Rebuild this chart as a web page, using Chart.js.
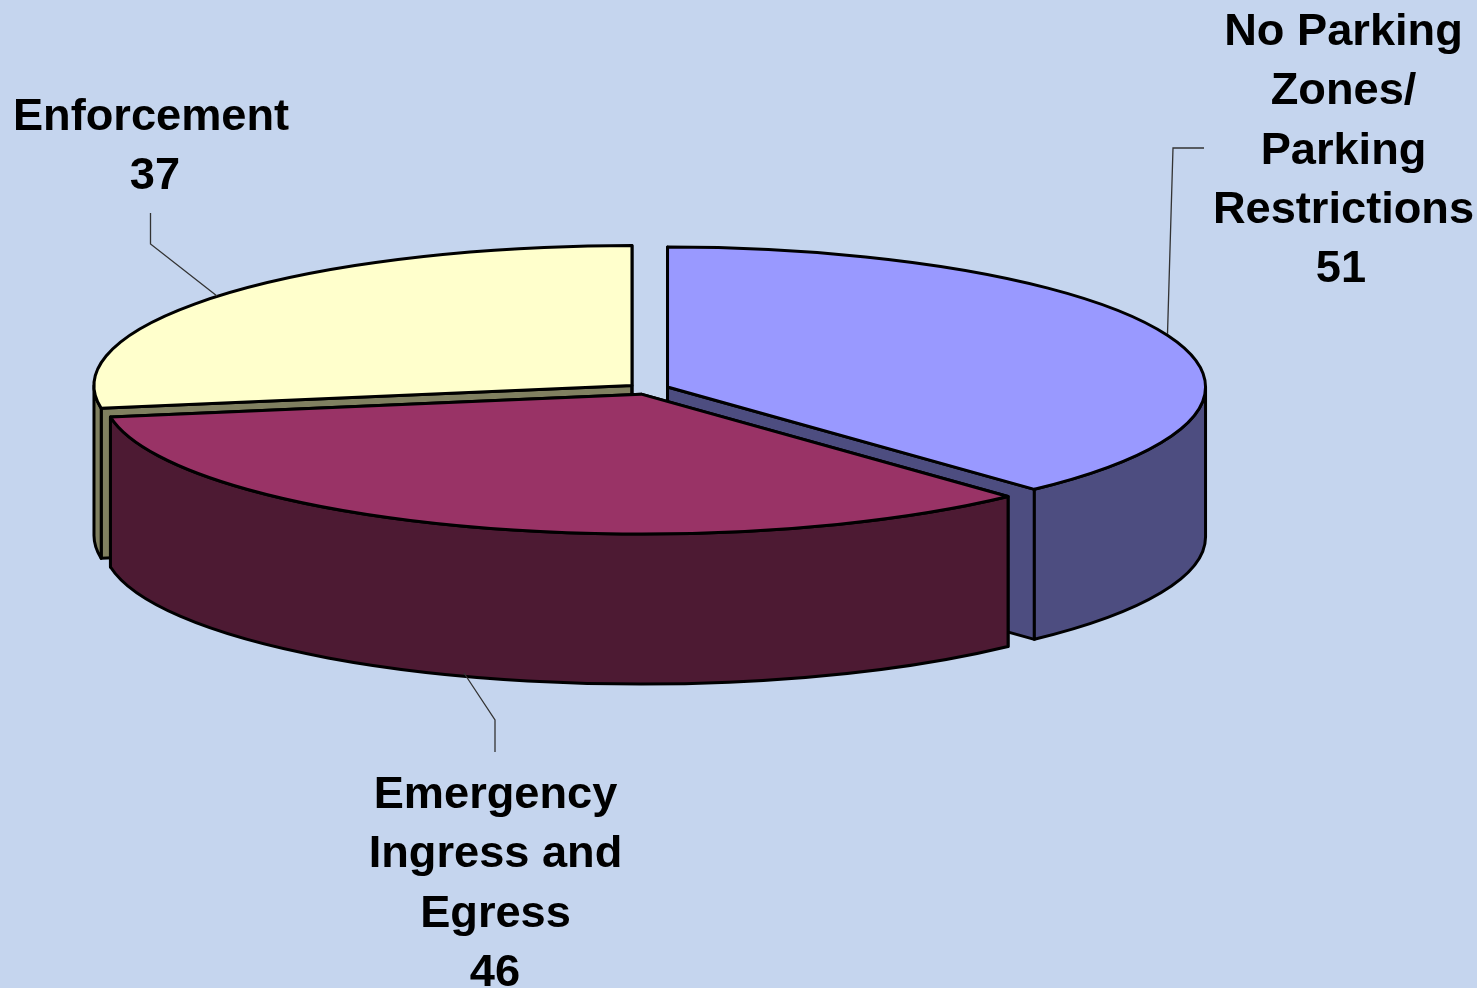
<!DOCTYPE html>
<html lang="en">
<head>
<meta charset="utf-8">
<script src="https://cdn.jsdelivr.net/npm/chart.js@4/dist/chart.umd.min.js"></script>
<style>
  html, body { margin: 0; padding: 0; background: #C5D5EE; overflow: hidden; }
  canvas { display: block; }
</style>
</head>
<body>
<canvas id="chart" width="1477" height="988"></canvas>
<script>
var categories = ['No Parking Zones/ Parking Restrictions', 'Emergency Ingress and Egress', 'Enforcement'];
var values = [51, 46, 37];
var labelLines = [
  ['No Parking', 'Zones/', 'Parking', 'Restrictions'],
  ['Emergency', 'Ingress and', 'Egress'],
  ['Enforcement']
];

var topColors = ['#9999FF', '#993366', '#FFFFCC'];
var sideColors = ['#4D4D80', '#4D1A33', '#808060'];

var tilt = 0.26;        // height of the pie ellipse / width
var depth = 150;        // height of the wall in pixels
var explode = 21;       // how far each slice is pulled out
var drawOrder = [2, 0, 1];

// where each text block goes and its leader line
var labelPos = [
  { x: 1343.5, y: 45, valueX: 1341, leader: [[1204, 148], [1173, 148], [1167.5, 334]] },
  { x: 495.5, y: 808, valueX: 495, leader: [[495, 752], [495, 720], [464, 673]] },
  { x: 151, y: 130, valueX: 155, leader: [[150.5, 213], [150.5, 244], [217, 296]] }
];

function shiftOf(arc) {
  var mid = (arc.startAngle + arc.endAngle) / 2;
  return {
    x: Math.cos(mid) * explode,
    y: Math.sin(mid) * explode * tilt
  };
}

function strokeFill(ctx, color) {
  ctx.fillStyle = color;
  ctx.fill();
  ctx.stroke();
}

function drawSlice(ctx, arc, side) {
  var s = shiftOf(arc);
  var cx = arc.x + s.x;
  var cy = arc.y + s.y;
  var rx = arc.outerRadius;
  var ry = rx * tilt;
  var a = arc.startAngle;
  var b = arc.endAngle;

  ctx.lineWidth = 3;
  ctx.strokeStyle = '#000';
  ctx.lineJoin = 'round';

  // radial faces
  [a, b].forEach(function (ang) {
    var px = cx + Math.cos(ang) * rx;
    var py = cy + Math.sin(ang) * ry;
    ctx.beginPath();
    ctx.moveTo(cx, cy);
    ctx.lineTo(px, py);
    ctx.lineTo(px, py + depth);
    ctx.lineTo(cx, cy + depth);
    ctx.closePath();
    strokeFill(ctx, side);
  });

  // outer wall, only the front half of the ellipse shows
  var a0 = Math.max(a, 0);
  var a1 = Math.min(b, Math.PI);
  if (a1 > a0) {
    ctx.beginPath();
    ctx.ellipse(cx, cy, rx, ry, 0, a0, a1);
    ctx.ellipse(cx, cy + depth, rx, ry, 0, a1, a0, true);
    ctx.closePath();
    strokeFill(ctx, side);
  }

  // top face comes from the library's own arc, squashed and moved out
  ctx.save();
  ctx.translate(s.x, arc.y + s.y);
  ctx.scale(1, tilt);
  ctx.translate(0, -arc.y);
  arc.draw(ctx);
  ctx.restore();

  // outline separately so the line width stays even
  ctx.beginPath();
  ctx.moveTo(cx, cy);
  ctx.ellipse(cx, cy, rx, ry, 0, a, b);
  ctx.closePath();
  ctx.stroke();
}

var pie3d = {
  id: 'pie3d',
  beforeDatasetsDraw: function (chart) {
    var ctx = chart.ctx;
    var arcs = chart.getDatasetMeta(0).data;
    ctx.save();
    drawOrder.forEach(function (i) {
      drawSlice(ctx, arcs[i], sideColors[i]);
    });
    ctx.restore();
    return false;
  }
};

var sliceLabels = {
  id: 'sliceLabels',
  afterDraw: function (chart) {
    var ctx = chart.ctx;
    ctx.save();
    labelPos.forEach(function (p, i) {
      ctx.strokeStyle = '#333';
      ctx.lineWidth = 1.3;
      ctx.beginPath();
      p.leader.forEach(function (pt, j) {
        if (j === 0) ctx.moveTo(pt[0], pt[1]); else ctx.lineTo(pt[0], pt[1]);
      });
      ctx.stroke();

      ctx.fillStyle = '#000';
      ctx.font = 'bold 45.2px "Liberation Sans"';
      ctx.textAlign = 'center';
      ctx.textBaseline = 'alphabetic';
      var lines = labelLines[i];
      lines.forEach(function (line, j) {
        ctx.fillText(line, p.x, p.y + j * 59.3);
      });
      ctx.fillText(String(values[i]), p.valueX, p.y + lines.length * 59.3);
    });
    ctx.restore();
  }
};

new Chart(document.getElementById('chart').getContext('2d'), {
  type: 'pie',
  data: {
    labels: categories,
    datasets: [{
      data: values,
      backgroundColor: topColors,
      borderWidth: 0
    }]
  },
  options: {
    responsive: false,
    animation: false,
    radius: 538,
    layout: { padding: { right: 181, bottom: 210 } },
    plugins: {
      legend: { display: false },
      tooltip: { enabled: false }
    }
  },
  plugins: [pie3d, sliceLabels]
});
</script>
</body>
</html>
